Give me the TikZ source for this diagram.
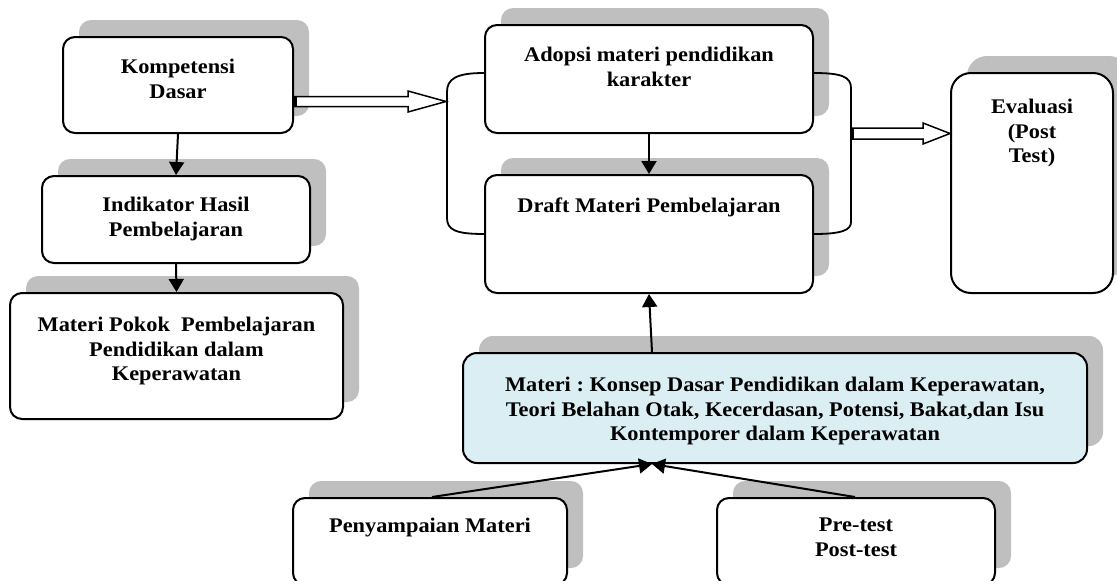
\documentclass[tikz,border=0pt]{standalone}
\usepackage{fontspec}
\setmainfont{Liberation Serif}[FakeStretch=1.075]
\usetikzlibrary{shadows,calc,arrows.meta}
\definecolor{shadowgray}{HTML}{BFBFBF}
\definecolor{paleblue}{HTML}{DAEEF3}
\newcommand{\hollowarr}[5]{%
  \draw[hollow] ($(#1)+(0,-#4)$) -- ($(#2)+(-#3,-#4)$) -- ($(#2)+(-#3,-#5)$) -- (#2)
    -- ($(#2)+(-#3,#5)$) -- ($(#2)+(-#3,#4)$) -- ($(#1)+(0,#4)$) -- cycle;
  \fill ($(#1)+(0,-#4)$) rectangle ($(#1)+(3,#4)$);}
\begin{document}
\begin{tikzpicture}[x=1pt,y=-1pt,
  box/.style={draw=black, line width=2pt, fill=white, rounded corners=12pt,
    inner sep=0pt,
    drop shadow={shadow xshift=16pt, shadow yshift=17pt, fill=shadowgray, opacity=1}},
  txt/.style={anchor=north, inner sep=0pt, align=center,
    font=\fontsize{20.8}{24.5}\selectfont\bfseries\frenchspacing},
  arr/.style={line width=2pt, -{Triangle[length=13pt,width=15pt]}},
  hollow/.style={draw=black, line width=1.5pt, fill=white, line join=miter},
  brk/.style={draw=black, line width=1.8pt}]
\useasboundingbox (0,0) rectangle (1117,581);

% boxes
\node[box, minimum width=230pt, minimum height=96pt] (komp) at (178,85) {};
\node[box, minimum width=268pt, minimum height=87pt] (indik) at (176,219.5) {};
\node[box, minimum width=333pt, minimum height=126pt] (pokok) at (176.5,356) {};
\node[box, minimum width=328pt, minimum height=108pt] (adopsi) at (649,79) {};
\node[box, minimum width=328pt, minimum height=118pt] (draft) at (649,234) {};
\node[box, rounded corners=20pt, minimum width=162pt, minimum height=220pt] (eval) at (1032,183) {};
\node[box, fill=paleblue, rounded corners=14pt, minimum width=624pt, minimum height=110pt] (materi) at (775,408) {};
\node[box, minimum width=274pt, minimum height=87pt] (penyamp) at (430,541.5) {};
\node[box, minimum width=278pt, minimum height=87pt] (pretest) at (856,541.5) {};

% texts
\node[txt] (kompT) at (178,59) {Kompetensi\\Dasar};
\node[txt] (indikT) at (176,197) {Indikator Hasil\\Pembelajaran};
\node[txt] (pokokT) at (176.5,317) {Materi Pokok\ \ Pembelajaran\\Pendidikan dalam\\Keperawatan};
\node[txt] (adopsiT) at (649,47) {Adopsi materi pendidikan\\karakter};
\node[txt] (draftT) at (649,198) {Draft Materi Pembelajaran};
\node[txt] (evalT) at (1032,99) {Evaluasi\\(Post\\Test)};
\node[txt] (materiT) at (775,377) {Materi : Konsep Dasar Pendidikan dalam Keperawatan,\\Teori Belahan Otak, Kecerdasan, Potensi, Bakat,dan Isu\\Kontemporer dalam Keperawatan};
\node[txt] (penyampT) at (430,518) {Penyampaian Materi};
\node[txt] (pretestT) at (856,518) {Pre-test\\Post-test};

% brackets around the middle column
\draw[brk] ([yshift=6pt]adopsi.west) .. controls (456,73) and (447,79) .. (447,92)
  -- (447,218) .. controls (447,230) and (456,234) .. (draft.west);
\draw[brk] ([yshift=6pt]adopsi.east) .. controls (842,73) and (851,77) .. (851,88)
  -- (851,222) .. controls (851,230) and (842,234) .. (draft.east);
\coordinate (brL) at (446,101.5);
\coordinate (brR) at (851,133.5);
\coordinate (a1s) at ([yshift=-16.5pt]komp.east);
\coordinate (a2e) at ([yshift=49.5pt]eval.west);

% hollow arrows
\hollowarr{a1s}{brL}{38}{5}{10.5}
\hollowarr{brR}{a2e}{27}{5.5}{10.5}

% solid arrows
\draw[arr] (komp.south) -- (indik.north);
\draw[arr] (indik.south) -- (pokok.north);
\draw[arr] (adopsi.south) -- (draft.north);
\draw[arr] ([xshift=-123pt]materi.north) -- (draft.south);
\draw[arr] ([xshift=2pt]penyamp.north) -- ([xshift=-123pt]materi.south);
\draw[arr] ([xshift=-1pt]pretest.north) -- ([xshift=-123pt]materi.south);
\end{tikzpicture}
\end{document}
